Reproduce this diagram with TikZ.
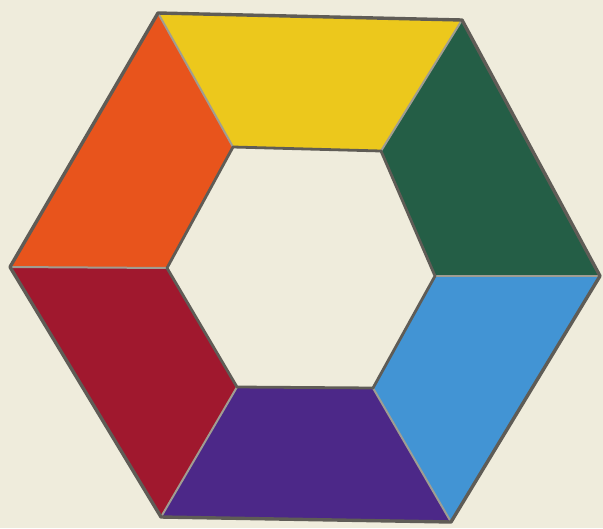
\documentclass[tikz,border=0pt]{standalone}
\definecolor{paper}{RGB}{239,236,220}
\definecolor{cyellow}{RGB}{236,200,28}
\definecolor{cgreen}{RGB}{36,94,70}
\definecolor{cblue}{RGB}{66,148,212}
\definecolor{cpurple}{RGB}{76,40,136}
\definecolor{cred}{RGB}{160,24,46}
\definecolor{corange}{RGB}{232,84,28}
\definecolor{pencil}{RGB}{95,92,86}
\begin{document}
\begin{tikzpicture}[x=1pt,y=-1pt,
  seg/.style={line join=round},
  rim/.style={draw=pencil,line width=3.4pt,line join=round},
  divider/.style={draw=pencil!55!paper,line width=2pt}]
\fill[paper] (0,0) rectangle (603,528);
\useasboundingbox (0,0) rectangle (603,528);
% outer vertices
\coordinate (OTL) at (158,13);
\coordinate (OTR) at (462,20);
\coordinate (OR) at (600,276);
\coordinate (OBR) at (451,522);
\coordinate (OBL) at (161,517);
\coordinate (OL) at (10,267);
% inner vertices
\coordinate (ITL) at (233,147);
\coordinate (ITR) at (381,151);
\coordinate (IR) at (435,276);
\coordinate (IBR) at (373,388);
\coordinate (IBL) at (237,387);
\coordinate (IL) at (167,268);
% segments
\fill[cyellow,seg] (OTL) -- (OTR) -- (ITR) -- (ITL) -- cycle;
\fill[cgreen,seg] (OTR) -- (OR) -- (IR) -- (ITR) -- cycle;
\fill[cblue,seg] (OR) -- (OBR) -- (IBR) -- (IR) -- cycle;
\fill[cpurple,seg] (OBR) -- (OBL) -- (IBL) -- (IBR) -- cycle;
\fill[cred,seg] (OBL) -- (OL) -- (IL) -- (IBL) -- cycle;
\fill[corange,seg] (OL) -- (OTL) -- (ITL) -- (IL) -- cycle;
% dividers
\draw[divider] (OTL) -- (ITL);
\draw[divider] (OTR) -- (ITR);
\draw[divider] (OR) -- (IR);
\draw[divider] (OBR) -- (IBR);
\draw[divider] (OBL) -- (IBL);
\draw[divider] (OL) -- (IL);
% outlines
\draw[rim] (OTL) -- (OTR) -- (OR) -- (OBR) -- (OBL) -- (OL) -- cycle;
\draw[rim,line width=2.8pt] (ITL) -- (ITR) -- (IR) -- (IBR) -- (IBL) -- (IL) -- cycle;
\end{tikzpicture}
\end{document}
